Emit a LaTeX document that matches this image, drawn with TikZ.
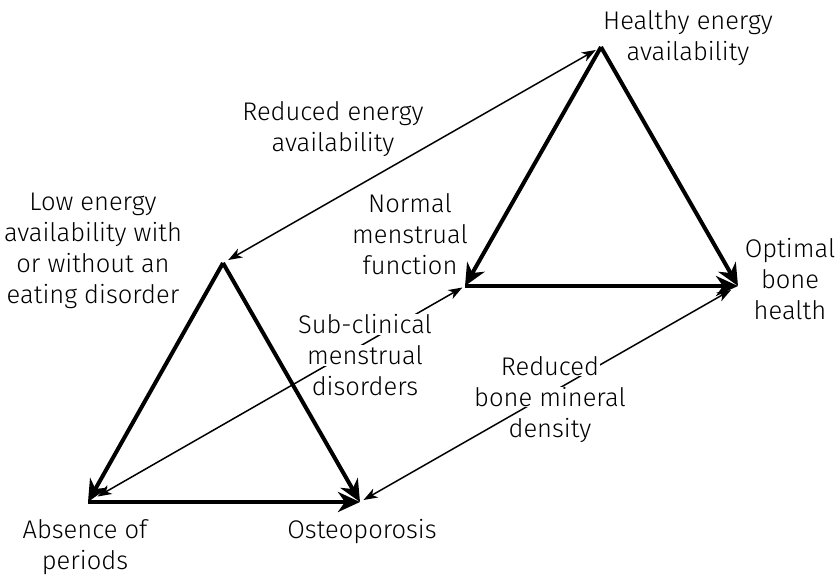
\documentclass[tikz,border=0pt]{standalone}
\usepackage{fontspec}
\setmainfont{Fira Sans}[UprightFont=* Light]
\usetikzlibrary{arrows.meta}

\newcommand{\cutline}[1]{{\setlength{\fboxsep}{0.5pt}\colorbox{white}{#1}}}

\begin{document}
\begin{tikzpicture}[x=1pt, y=-1pt,
  thick arrow/.style = {line width=4pt, -{Stealth[length=22pt, width=20pt, inset=7pt]}},
  thin arrow/.style = {line width=1.5pt, {Stealth[length=14pt, width=10pt, inset=4pt]}-{Stealth[length=14pt, width=10pt, inset=4pt]}},
  txt/.style = {align=center, anchor=north, inner sep=0pt, font=\fontsize{25.5}{31}\selectfont}]

\useasboundingbox (0,0) rectangle (837,576);

% left triangle
\coordinate (low) at (223,263);
\coordinate (absence) at (88,502);
\coordinate (osteo) at (360,502);

% right triangle
\coordinate (healthy) at (601,47);
\coordinate (normal) at (465,286);
\coordinate (optimal) at (738,286);

\draw[thin arrow, shorten <=6pt, shorten >=6pt] (low) -- (healthy);
\draw[thin arrow, shorten <=11pt, shorten >=3pt] (absence) -- (normal);
\draw[thin arrow, shorten <=4pt, shorten >=8pt] (osteo) -- (optimal);

\draw[thick arrow] (low) -- (absence);
\draw[thick arrow] (low) -- (osteo);
\draw[thick arrow] (absence) -- (osteo);

\draw[thick arrow] (healthy) -- (normal);
\draw[thick arrow] (healthy) -- (optimal);
\draw[thick arrow] (normal) -- (optimal);

\node[txt] (healthytext) at (688,10) {Healthy energy\\availability};
\node[txt] (reducedE) at (333,101) {Reduced energy\\availability};
\node[txt] (lowtext) at (93,193) {Low energy\\availability with\\or without an\\eating disorder};
\node[txt] (normaltext) at (410,193) {Normal\\menstrual\\function};
\node[txt] (optimaltext) at (790,238) {Optimal\\bone\\health};
\node[txt] (subclin) at (365,314) {\cutline{Sub-clinical}\\\cutline{menstrual}\\\cutline{disorders}};
\node[txt] (reducedB) at (550,356) {\cutline{Reduced}\\\cutline{bone mineral}\\\cutline{density}};
\node[txt] (absencetext) at (85,519) {Absence of\\periods};
\node[txt] (osteotext) at (362,519) {Osteoporosis};

\end{tikzpicture}
\end{document}
